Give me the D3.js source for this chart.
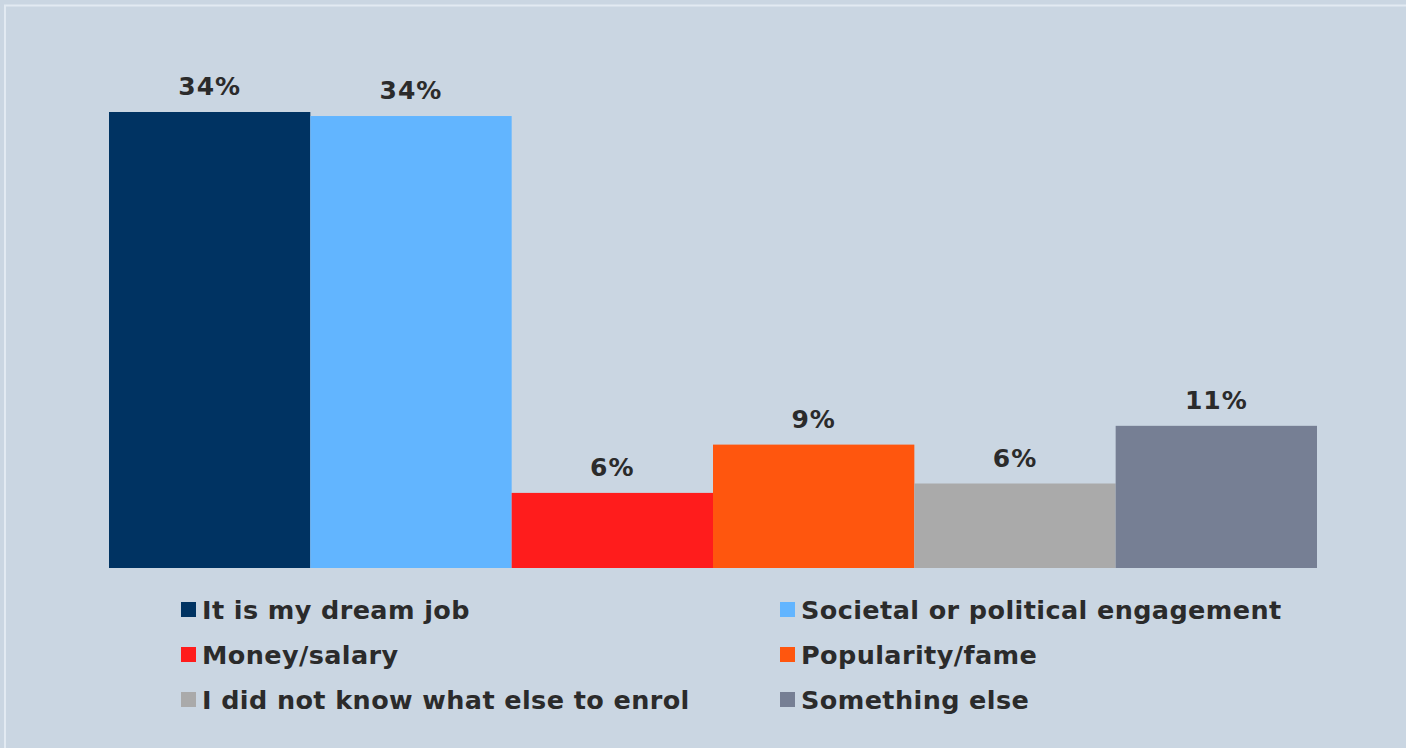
<!DOCTYPE html>
<html>
<head>
<meta charset="utf-8">
<script src="https://cdn.jsdelivr.net/npm/d3@7/dist/d3.min.js"></script>
<style>
  html, body { margin: 0; padding: 0; background: #cad6e2; }
  svg { display: block; }
  text { font-family: "DejaVu Sans", Verdana, sans-serif; font-weight: bold; fill: #2b2b2b; }
</style>
</head>
<body>
<svg id="chart" width="1406" height="748"></svg>
<script>
// Reasons for choosing the field of study (share of respondents, %)
const categories = [
  "It is my dream job",
  "Societal or political engagement",
  "Money/salary",
  "Popularity/fame",
  "I did not know what else to enrol",
  "Something else"
];
const values = [34.0, 33.7, 5.6, 9.2, 6.3, 10.6];
const colors = ["#003362", "#62b5ff", "#ff1c1c", "#ff560e", "#aaaaaa", "#767f94"];

const W = 1406, H = 748;
const svg = d3.select("#chart");

// panel background with light top/left edge
svg.append("rect").attr("width", W).attr("height", H).attr("fill", "#cad6e2");
svg.append("path")
  .attr("d", `M5,${H} V5.5 H${W}`)
  .attr("fill", "none").attr("stroke", "#e2eaf2").attr("stroke-width", 2);

const x = d3.scaleBand().domain(categories).range([109, 1317]).padding(0);
const y = d3.scaleLinear().domain([0, 34]).range([568, 112]);
const fmt = v => d3.format(".0f")(v) + "%";

svg.append("g").selectAll("rect")
  .data(categories)
  .join("rect")
  .attr("x", d => x(d))
  .attr("y", (d, i) => y(values[i]))
  .attr("width", x.bandwidth())
  .attr("height", (d, i) => y(0) - y(values[i]))
  .attr("fill", (d, i) => colors[i]);

svg.append("g").selectAll("text")
  .data(categories)
  .join("text")
  .attr("x", d => x(d) + x.bandwidth() / 2)
  .attr("y", (d, i) => y(values[i]) - 17)
  .attr("text-anchor", "middle")
  .attr("font-size", 25)
  .attr("letter-spacing", 1)
  .text((d, i) => fmt(values[i]));

// legend: two columns, three rows
const legend = svg.append("g").selectAll("g")
  .data(categories)
  .join("g")
  .attr("transform", (d, i) => `translate(${i % 2 === 0 ? 181 : 780},${602 + Math.floor(i / 2) * 45})`);

legend.append("rect")
  .attr("width", 15).attr("height", 15)
  .attr("fill", (d, i) => colors[i]);

legend.append("text")
  .attr("x", 21)
  .attr("y", 17)
  .attr("font-size", 25.5)
  .attr("letter-spacing", 0.4)
  .text(d => d);
</script>
</body>
</html>
